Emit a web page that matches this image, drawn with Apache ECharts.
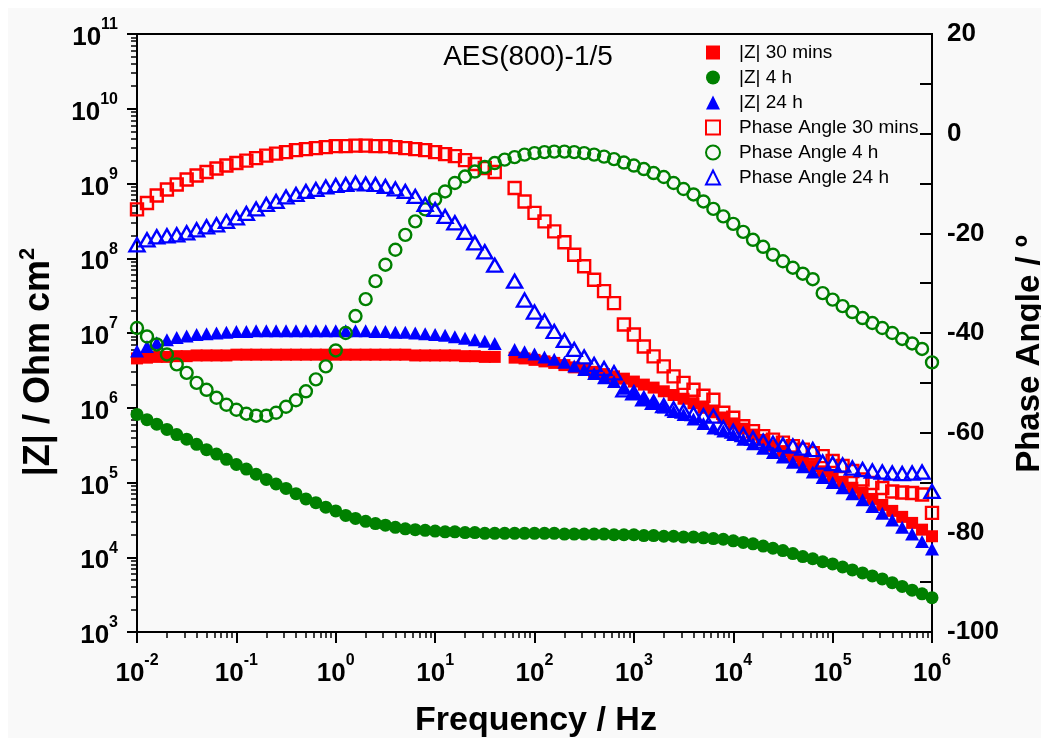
<!DOCTYPE html>
<html>
<head>
<meta charset="utf-8">
<title>AES(800)-1/5 Bode plot</title>
<script src="https://cdn.jsdelivr.net/npm/echarts@6/dist/echarts.min.js"></script>
<style>
    html, body { margin: 0; padding: 0; background: #fff; }
    #chart { width: 1041px; height: 738px; }
</style>
</head>
<body>
<div id="chart"></div>
<script>
// frequency sweep, 10 points per decade (Hz)
const freq = [
    0.01, 0.0126, 0.0158, 0.02, 0.0251, 0.0316, 0.0398, 0.0501, 0.0631, 0.0794,
    0.1, 0.126, 0.158, 0.2, 0.251, 0.316, 0.398, 0.501, 0.631, 0.794,
    1, 1.26, 1.58, 2, 2.51, 3.16, 3.98, 5.01, 6.31, 7.94,
    10, 12.6, 15.8, 20, 25.1, 31.6, 39.8, 50.1, 63.1, 79.4,
    100, 126, 158, 200, 251, 316, 398, 501, 631, 794,
    1000, 1260, 1580, 2000, 2510, 3160, 3980, 5010, 6310, 7940,
    1e4, 1.26e4, 1.58e4, 2e4, 2.51e4, 3.16e4, 3.98e4, 5.01e4, 6.31e4, 7.94e4,
    1e5, 1.26e5, 1.58e5, 2e5, 2.51e5, 3.16e5, 3.98e5, 5.01e5, 6.31e5, 7.94e5,
    1e6
];

// |Z| in Ohm cm2 (null = point not recorded)
const zMod30min = [
    4.57e6, 4.68e6, 4.79e6, 4.79e6, 4.90e6, 4.90e6, 5.01e6, 5.01e6, 5.01e6, 5.01e6,
    5.13e6, 5.13e6, 5.13e6, 5.13e6, 5.13e6, 5.13e6, 5.13e6, 5.13e6, 5.13e6, 5.13e6,
    5.13e6, 5.13e6, 5.13e6, 5.13e6, 5.13e6, 5.13e6, 5.13e6, 5.13e6, 5.01e6, 5.01e6,
    5.01e6, 5.01e6, 5.01e6, 4.90e6, 4.90e6, 4.79e6, 4.79e6, null, 4.68e6, 4.57e6,
    4.37e6, 4.17e6, 3.98e6, 3.72e6, 3.47e6, 3.24e6, 3.02e6, 2.82e6, 2.63e6, 2.45e6,
    2.24e6, 2.04e6, 1.86e6, 1.66e6, 1.48e6, 1.32e6, 1.15e6, 1.00e6, 8.71e5, 7.41e5,
    6.17e5, 5.25e5, 4.37e5, 3.72e5, 3.09e5, 2.63e5, 2.24e5, 1.91e5, 1.66e5, 1.41e5,
    1.20e5, 1.02e5, 8.51e4, 7.24e4, 6.03e4, 5.01e4, 4.17e4, 3.47e4, 2.88e4, 2.34e4,
    1.91e4
];
const zMod4h = [
    8.13e5, 6.92e5, 6.03e5, 5.13e5, 4.37e5, 3.80e5, 3.24e5, 2.75e5, 2.40e5, 2.04e5,
    1.74e5, 1.51e5, 1.29e5, 1.10e5, 9.55e4, 8.32e4, 7.08e4, 6.03e4, 5.37e4, 4.68e4,
    4.17e4, 3.63e4, 3.31e4, 3.02e4, 2.82e4, 2.69e4, 2.51e4, 2.40e4, 2.34e4, 2.29e4,
    2.24e4, 2.19e4, 2.19e4, 2.14e4, 2.14e4, 2.09e4, 2.09e4, 2.09e4, 2.09e4, 2.09e4,
    2.09e4, 2.09e4, 2.09e4, 2.04e4, 2.04e4, 2.04e4, 2.04e4, 2.04e4, 2.00e4, 2.00e4,
    2.00e4, 1.95e4, 1.95e4, 1.91e4, 1.91e4, 1.86e4, 1.86e4, 1.82e4, 1.78e4, 1.74e4,
    1.66e4, 1.58e4, 1.51e4, 1.41e4, 1.32e4, 1.23e4, 1.12e4, 1.02e4, 9.55e3, 8.71e3,
    8.13e3, 7.41e3, 6.76e3, 6.17e3, 5.62e3, 5.13e3, 4.57e3, 4.07e3, 3.63e3, 3.24e3,
    2.88e3
];
const zMod24h = [
    5.75e6, 6.61e6, 7.41e6, 8.13e6, 8.71e6, 9.12e6, 9.55e6, 9.77e6, 1.00e7, 1.02e7,
    1.05e7, 1.05e7, 1.07e7, 1.07e7, 1.07e7, 1.07e7, 1.07e7, 1.07e7, 1.07e7, 1.07e7,
    1.07e7, 1.07e7, 1.07e7, 1.07e7, 1.05e7, 1.05e7, 1.02e7, 1.02e7, 1.00e7, 9.77e6,
    9.55e6, 9.33e6, 8.91e6, 8.51e6, 8.13e6, 7.76e6, 7.24e6, null, 6.03e6, 5.62e6,
    5.25e6, 4.79e6, 4.47e6, 4.07e6, 3.63e6, 3.24e6, 2.88e6, 2.51e6, 2.24e6, 1.82e6,
    1.55e6, 1.32e6, 1.17e6, 1.02e6, 8.91e5, 8.13e5, 7.08e5, 6.17e5, 5.37e5, 4.90e5,
    4.37e5, 3.80e5, 3.31e5, 2.88e5, 2.51e5, 2.19e5, 1.86e5, 1.62e5, 1.38e5, 1.17e5,
    1.00e5, 8.51e4, 7.08e4, 5.89e4, 4.79e4, 3.89e4, 3.16e4, 2.51e4, 2.04e4, 1.62e4,
    1.29e4
];

// phase angle in degrees
const phase30min = [
    -15.2, -13.9, -12.4, -11.2, -10.2, -9.2, -8.4, -7.7, -7.0, -6.4,
    -5.9, -5.4, -4.9, -4.4, -4.0, -3.7, -3.3, -3.1, -2.9, -2.7,
    -2.5, -2.5, -2.4, -2.4, -2.5, -2.5, -2.7, -2.9, -3.1, -3.3,
    -3.7, -4.1, -4.5, -5.3, -6.1, -6.9, -7.7, null, -10.9, -13.6,
    -15.9, -17.6, -19.6, -21.8, -24.3, -26.6, -29.3, -31.6, -34.0, -38.3,
    -40.3, -42.7, -44.7, -46.7, -48.7, -50.0, -51.4, -52.6, -53.4, -56.0,
    -57.0, -58.7, -59.7, -60.7, -61.4, -62.0, -62.7, -63.4, -64.1, -64.7,
    -65.7, -66.7, -67.7, -69.4, -70.1, -71.1, -71.8, -72.0, -72.1, -72.4,
    -76.1
];
const phase4h = [
    -39.0, -40.7, -42.3, -44.3, -46.3, -48.0, -50.0, -51.4, -53.0, -54.4,
    -55.4, -56.2, -56.6, -56.6, -56.0, -54.8, -53.5, -51.7, -49.3, -46.7,
    -43.5, -40.0, -36.6, -33.2, -29.6, -26.3, -23.3, -20.3, -17.6, -15.2,
    -13.2, -11.6, -9.9, -8.6, -7.6, -6.7, -5.9, -5.2, -4.7, -4.2,
    -3.9, -3.7, -3.6, -3.6, -3.7, -3.9, -4.2, -4.6, -5.1, -5.8,
    -6.4, -7.1, -7.9, -8.7, -9.9, -11.1, -12.2, -13.6, -15.1, -16.6,
    -18.1, -19.7, -21.3, -22.7, -24.3, -25.6, -26.9, -28.1, -29.2, -32.0,
    -33.3, -34.6, -35.8, -37.0, -38.0, -39.0, -40.0, -41.2, -42.1, -43.2,
    -45.9
];
const phase24h = [
    -22.3, -21.3, -20.7, -20.5, -20.3, -19.9, -19.3, -18.7, -18.3, -17.6,
    -16.9, -16.0, -15.1, -14.2, -13.6, -12.7, -12.2, -11.6, -11.2, -10.7,
    -10.4, -10.2, -9.9, -10.1, -10.2, -10.6, -11.1, -11.6, -12.6, -14.2,
    -15.2, -16.6, -17.9, -19.8, -21.9, -23.7, -26.4, null, -29.6, -33.4,
    -35.8, -37.6, -39.7, -41.5, -43.3, -44.8, -46.3, -47.1, -48.0, -51.4,
    -52.0, -53.2, -53.9, -54.6, -55.2, -55.7, -56.2, -56.6, -56.7, -59.0,
    -59.7, -60.4, -61.1, -61.7, -62.1, -62.4, -62.7, -63.1, -63.4, -65.9,
    -66.2, -66.5, -67.1, -67.4, -67.7, -67.9, -68.1, -68.2, -68.1, -67.9,
    -71.8
];

const seriesNames = [
    '|Z| 30 mins', '|Z| 4 h', '|Z| 24 h',
    'Phase Angle 30 mins', 'Phase Angle 4 h', 'Phase Angle 24 h'
];
const annotation = 'AES(800)-1/5';

const FONT = '"Liberation Sans", Arial, Helvetica, sans-serif';
const RED = '#ff0000';
const GREEN = '#008000';
const BLUE = '#0000ff';

function pairs(values) {
    const out = [];
    values.forEach((v, i) => {
        if (v !== null) out.push([freq[i], v]);
    });
    return out;
}

// positions of the 2..9 minor ticks inside each decade (in log10 units)
function minorTicks(from, to) {
    const ticks = [];
    for (let d = from; d < to; d++) {
        for (let m = 2; m <= 9; m++) ticks.push(d + Math.log10(m));
    }
    return ticks;
}

function powerLabel(value) {
    const exp = Math.round(Math.log10(value));
    return '{b|10}{s|' + exp + '}';
}

const powRich = {
    b: { fontFamily: FONT, fontSize: 26, fontWeight: 'bold', color: '#000', lineHeight: 34, verticalAlign: 'bottom' },
    s: { fontFamily: FONT, fontSize: 16, fontWeight: 'bold', color: '#000', lineHeight: 16, verticalAlign: 'top' }
};

const axisLine = { show: true, onZero: false, lineStyle: { color: '#000', width: 2 } };
const hiddenLine = { show: false, onZero: false };

function filled(name, symbol, size, color, values, yIndex) {
    return {
        name: name,
        type: 'scatter',
        yAxisIndex: yIndex,
        symbol: symbol,
        symbolSize: size,
        itemStyle: { color: color, opacity: 1 },
        data: pairs(values)
    };
}

function hollow(name, symbol, size, color, values, yIndex) {
    return {
        name: name,
        type: 'scatter',
        yAxisIndex: yIndex,
        symbol: symbol,
        symbolSize: size,
        itemStyle: { color: 'rgba(0,0,0,0)', borderColor: color, borderWidth: 2.4, opacity: 1 },
        data: pairs(values)
    };
}

const chart = echarts.init(document.getElementById('chart'));

chart.setOption({
    animation: false,
    backgroundColor: '#ffffff',
    grid: {
        left: 137, right: 109, top: 34, bottom: 106,
        show: true, borderColor: '#000', borderWidth: 2, backgroundColor: 'transparent'
    },
    legend: {
        orient: 'vertical',
        left: 700,
        top: 38,
        itemWidth: 14,
        itemHeight: 14,
        itemGap: 6,
        data: seriesNames,
        textStyle: { fontFamily: FONT, fontSize: 19, color: '#000', lineHeight: 18, padding: [0, 0, 0, 14] }
    },
    xAxis: [
        {
            type: 'log',
            logBase: 10,
            min: 0.01,
            max: 1e6,
            splitNumber: 8,
            axisLine: axisLine,
            axisTick: { show: true, length: 11, lineStyle: { color: '#000', width: 2 } },
            splitLine: { show: false },
            axisLabel: { formatter: powerLabel, rich: powRich, margin: 21, showMinLabel: true, showMaxLabel: true }
        },
        {
            type: 'value',
            min: -2,
            max: 6,
            position: 'bottom',
            axisLine: hiddenLine,
            axisTick: { show: true, length: 6, customValues: minorTicks(-2, 6), lineStyle: { color: '#000', width: 1.5 } },
            axisLabel: { show: false },
            splitLine: { show: false }
        }
    ],
    yAxis: [
        {
            type: 'log',
            logBase: 10,
            min: 1e3,
            max: 1e11,
            splitNumber: 8,
            position: 'left',
            axisLine: axisLine,
            axisTick: { show: true, length: 10, lineStyle: { color: '#000', width: 2 } },
            splitLine: { show: false },
            axisLabel: { formatter: powerLabel, rich: powRich, margin: 19, showMinLabel: true, showMaxLabel: true }
        },
        {
            type: 'value',
            min: -100,
            max: 20,
            interval: 10,
            position: 'right',
            axisLine: axisLine,
            axisTick: { show: true, inside: true, length: 12, lineStyle: { color: '#000', width: 2 } },
            splitLine: { show: false },
            axisLabel: {
                margin: 15,
                fontFamily: FONT,
                fontSize: 26,
                fontWeight: 'bold',
                color: '#000',
                formatter: (v) => (v % 20 === 0 ? String(v) : '')
            }
        },
        {
            type: 'value',
            min: 3,
            max: 11,
            position: 'left',
            axisLine: hiddenLine,
            axisTick: { show: true, length: 6, customValues: minorTicks(3, 11), lineStyle: { color: '#000', width: 1.5 } },
            axisLabel: { show: false },
            splitLine: { show: false }
        }
    ],
    series: [
        filled(seriesNames[0], 'rect', 12, RED, zMod30min, 0),
        filled(seriesNames[1], 'circle', 13, GREEN, zMod4h, 0),
        filled(seriesNames[2], 'triangle', [14, 13], BLUE, zMod24h, 0),
        hollow(seriesNames[3], 'rect', 12, RED, phase30min, 1),
        hollow(seriesNames[4], 'circle', 12, GREEN, phase4h, 1),
        hollow(seriesNames[5], 'triangle', [15, 13], BLUE, phase24h, 1)
    ],
    graphic: [
        {
            type: 'rect', left: 8, top: 8, z: -10, silent: true,
            shape: { width: 1033, height: 730 },
            style: { fill: '#f9f9f9' }
        },
        {
            type: 'text', x: 528, y: 57, silent: true,
            style: {
                text: annotation, font: '28px ' + FONT, fill: '#000',
                align: 'center', verticalAlign: 'middle', textAlign: 'center', textVerticalAlign: 'middle'
            }
        },
        {
            type: 'text', x: 536, y: 721, silent: true,
            style: {
                text: 'Frequency / Hz', font: 'bold 34px ' + FONT, fill: '#000',
                align: 'center', verticalAlign: 'middle', textAlign: 'center', textVerticalAlign: 'middle'
            }
        },
        {
            type: 'text', x: 37, y: 362, rotation: Math.PI / 2, silent: true,
            style: {
                text: '{t||Z| / Ohm cm}{s|2}',
                align: 'center', verticalAlign: 'middle', textAlign: 'center', textVerticalAlign: 'middle',
                rich: {
                    t: { fontFamily: FONT, fontSize: 36, fontWeight: 'bold', color: '#000', lineHeight: 40, verticalAlign: 'bottom' },
                    s: { fontFamily: FONT, fontSize: 22, fontWeight: 'bold', color: '#000', lineHeight: 22, verticalAlign: 'top' }
                }
            }
        },
        {
            type: 'text', x: 1030, y: 354, rotation: Math.PI / 2, silent: true,
            style: {
                text: 'Phase Angle / \u00ba', font: 'bold 33px ' + FONT, fill: '#000',
                align: 'center', verticalAlign: 'middle', textAlign: 'center', textVerticalAlign: 'middle'
            }
        }
    ]
});
</script>
</body>
</html>
